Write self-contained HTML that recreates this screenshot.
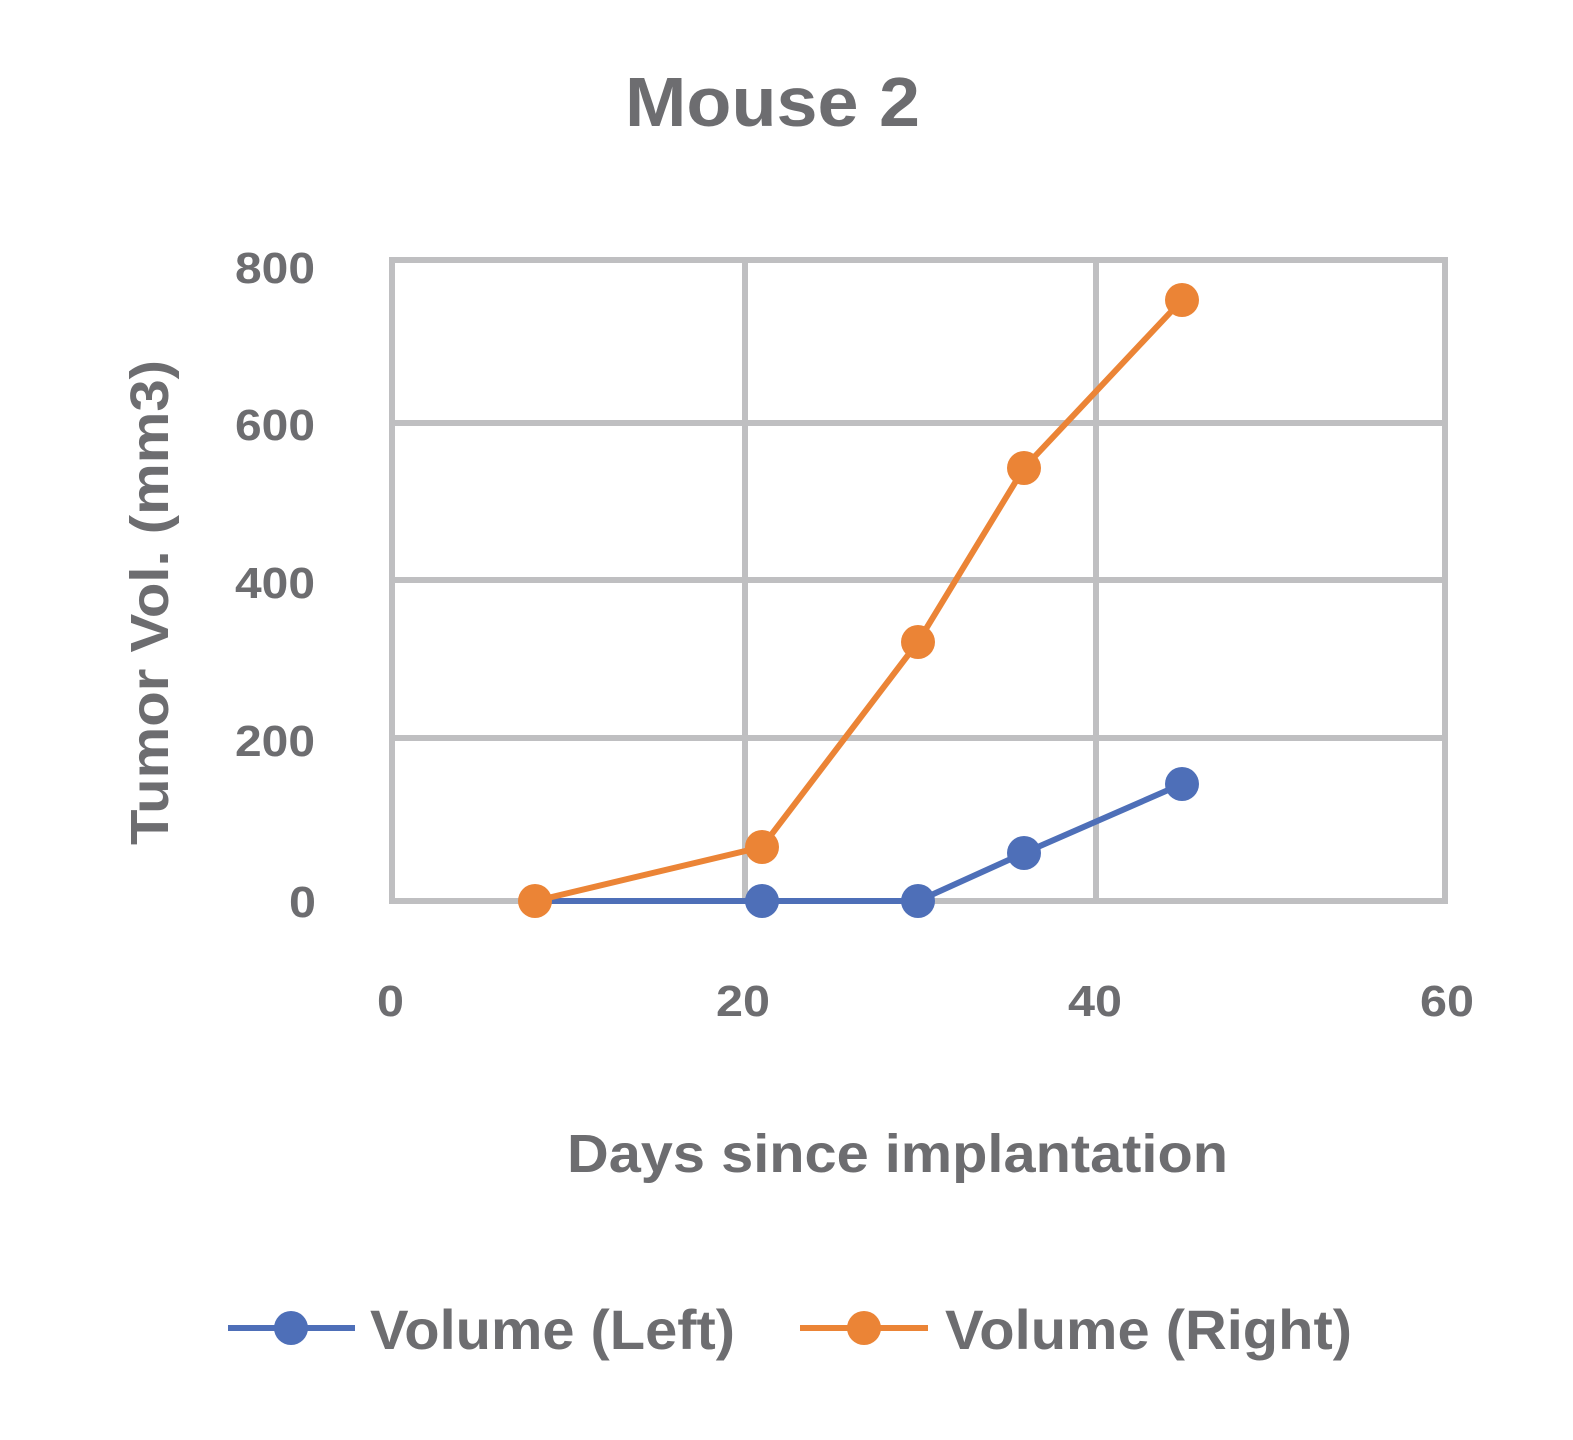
<!DOCTYPE html>
<html><head><meta charset="utf-8"><style>html,body{margin:0;padding:0;background:#fff}</style></head>
<body>
<svg width="1573" height="1435" xmlns="http://www.w3.org/2000/svg" font-family="Liberation Sans, Arial, sans-serif" font-weight="bold" fill="#6d6d70">
<rect width="1573" height="1435" fill="#fff"/>
<text x="625" y="126" font-size="70" textLength="295" lengthAdjust="spacingAndGlyphs">Mouse 2</text>
<g stroke="#bfbfc1" stroke-width="6" fill="none">
<line x1="392" y1="260" x2="1445" y2="260"/>
<line x1="392" y1="423" x2="1445" y2="423"/>
<line x1="392" y1="580" x2="1445" y2="580"/>
<line x1="392" y1="738" x2="1445" y2="738"/>
<line x1="392" y1="901" x2="1445" y2="901"/>
<line x1="392" y1="257" x2="392" y2="904"/>
<line x1="745" y1="257" x2="745" y2="904"/>
<line x1="1096" y1="257" x2="1096" y2="904"/>
<line x1="1445" y1="257" x2="1445" y2="904"/>
</g>
<g font-size="44">
<text x="235" y="283" textLength="80" lengthAdjust="spacingAndGlyphs">800</text>
<text x="235" y="440" textLength="80" lengthAdjust="spacingAndGlyphs">600</text>
<text x="235" y="598" textLength="80" lengthAdjust="spacingAndGlyphs">400</text>
<text x="235" y="756" textLength="80" lengthAdjust="spacingAndGlyphs">200</text>
<text x="289" y="917" textLength="27" lengthAdjust="spacingAndGlyphs">0</text>
</g>
<g font-size="44">
<text x="377" y="1016" textLength="27" lengthAdjust="spacingAndGlyphs">0</text>
<text x="716" y="1016" textLength="54" lengthAdjust="spacingAndGlyphs">20</text>
<text x="1068" y="1016" textLength="54" lengthAdjust="spacingAndGlyphs">40</text>
<text x="1420" y="1016" textLength="54" lengthAdjust="spacingAndGlyphs">60</text>
</g>
<text transform="translate(168,845) rotate(-90)" font-size="54" textLength="485" lengthAdjust="spacingAndGlyphs">Tumor Vol. (mm3)</text>
<text x="567" y="1172" font-size="54" textLength="661" lengthAdjust="spacingAndGlyphs">Days since implantation</text>
<polyline points="535,901 762,901 918,901 1024,853 1182,784" fill="none" stroke="#4e6fb8" stroke-width="6"/>
<polyline points="535,901 762,847 918,642 1024,468 1182,300" fill="none" stroke="#eb8436" stroke-width="6"/>
<g fill="#4e6fb8">
<circle cx="762" cy="901" r="17"/><circle cx="918" cy="901" r="17"/><circle cx="1024" cy="853" r="17"/><circle cx="1182" cy="784" r="17"/>
</g>
<g fill="#eb8436">
<circle cx="535" cy="901" r="17"/><circle cx="762" cy="847" r="17"/><circle cx="918" cy="642" r="17"/><circle cx="1024" cy="468" r="17"/><circle cx="1182" cy="300" r="17"/>
</g>
<line x1="228" y1="1328" x2="355" y2="1328" stroke="#4e6fb8" stroke-width="6"/>
<circle cx="291" cy="1328" r="17" fill="#4e6fb8"/>
<text x="370" y="1349" font-size="56" textLength="365" lengthAdjust="spacingAndGlyphs">Volume (Left)</text>
<line x1="800" y1="1328" x2="928" y2="1328" stroke="#eb8436" stroke-width="6"/>
<circle cx="864" cy="1328" r="17" fill="#eb8436"/>
<text x="945" y="1349" font-size="56" textLength="407" lengthAdjust="spacingAndGlyphs">Volume (Right)</text>
</svg>
</body></html>
